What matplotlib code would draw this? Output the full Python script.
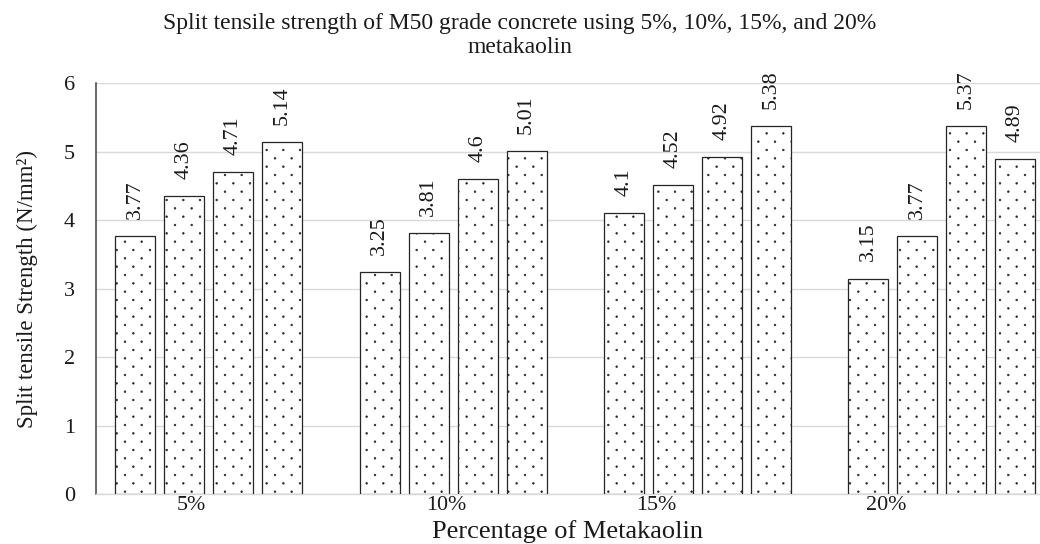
import numpy as np
import matplotlib
matplotlib.use("Agg")
import matplotlib.pyplot as plt
import matplotlib.hatch as mhatch
from matplotlib.path import Path

# ---- data -------------------------------------------------------------
categories = ["5%", "10%", "15%", "20%"]
series_1 = [3.77, 3.25, 4.10, 3.15]
series_2 = [4.36, 3.81, 4.52, 3.77]
series_3 = [4.71, 4.60, 4.92, 5.37]
series_4 = [5.14, 5.01, 5.38, 4.89]
all_series = [series_1, series_2, series_3, series_4]

y_ticks = [0, 1, 2, 3, 4, 5, 6]
title = ("Split tensile strength of M50 grade concrete using 5%, 10%, 15%, and 20%\n"
         "metakaolin")
x_title = "Percentage of Metakaolin"
y_title = "Split tensile Strength (N/mm²)"

# horizontal nudge of each category label relative to its group centre
label_shift = [-0.070, -0.029, -0.167, -0.229]


# ---- staggered dot texture for the '.' hatch ----------------------------
class StaggeredDots(mhatch.HatchPatternBase):
    cols = 6
    rows = 12
    radius = 0.0085

    def __init__(self, hatch, density):
        circle = Path.unit_circle()
        self.shape_vertices = circle.vertices
        self.shape_codes = circle.codes
        if hatch.count('.') > 0:
            pts = []
            for r in range(self.rows + 1):
                y = r / self.rows
                if r % 2 == 0:
                    xs = np.linspace(0, 1, self.cols + 1)
                else:
                    xs = (np.arange(self.cols) + 0.5) / self.cols
                pts += [(x, y) for x in xs]
            self.centers = np.array(pts)
            self.num_vertices = len(self.centers) * len(self.shape_vertices)
        else:
            self.centers = np.empty((0, 2))
            self.num_vertices = 0

    def set_vertices_and_codes(self, vertices, codes):
        verts = [self.shape_vertices * self.radius + c for c in self.centers]
        cds = [self.shape_codes] * len(self.centers)
        np.concatenate(verts, out=vertices)
        np.concatenate(cds, out=codes)


mhatch._hatch_types = [StaggeredDots if t is mhatch.SmallFilledCircles else t
                       for t in mhatch._hatch_types]

plt.rcParams['font.family'] = ['Liberation Serif', 'DejaVu Serif']
plt.rcParams['hatch.linewidth'] = 0.45
plt.rcParams['hatch.color'] = 'black'

# ---- figure -----------------------------------------------------------
fig = plt.figure(figsize=(10.40, 5.44), dpi=100)
ax = fig.add_axes([0.092, 0.0914, 0.908, 0.7555])

x = np.arange(len(categories))
step = 0.2006
width = 0.1637
n = len(all_series)

for j, vals in enumerate(all_series):
    xpos = x + (j - (n - 1) / 2) * step
    bars = ax.bar(xpos, vals, width=width, color='white', edgecolor='#262626',
                  linewidth=0.9, hatch='.', zorder=3)
    for rect, v in zip(bars, vals):
        ax.annotate(f"{v:g}", (rect.get_x() + rect.get_width() / 2, v),
                    xytext=(0, 12.3), textcoords='offset points',
                    rotation=90, ha='center', va='bottom', fontsize=15.8,
                    color='#1a1a1a')

ax.set_ylim(0, 6)
ax.set_xlim(-0.463, 3.402)
ax.set_yticks(y_ticks)
ax.set_xticks(x + np.array(label_shift))
ax.set_xticklabels(categories)

ax.grid(axis='y', color='#d9d9d9', linewidth=1.0, zorder=0)
ax.set_axisbelow(True)
for s in ['top', 'right']:
    ax.spines[s].set_visible(False)
ax.spines['left'].set_color('#404040')
ax.spines['left'].set_linewidth(1.1)
ax.spines['bottom'].set_color('#d9d9d9')
ax.spines['bottom'].set_linewidth(1.0)

ax.tick_params(axis='y', length=0, pad=15, labelsize=16, labelcolor='#1a1a1a')
ax.tick_params(axis='x', length=0, pad=1.2, labelsize=15.8, labelcolor='#1a1a1a')

ax.set_xlabel(x_title, fontsize=19, color='#1a1a1a', va='baseline')
ax.xaxis.set_label_coords(0.5, -0.1063)
ax.set_ylabel(y_title, fontsize=16.5, color='#1a1a1a')
ax.yaxis.label.set(rotation_mode='default', va='center', ha='center')
ax.yaxis.set_label_coords(-0.0727, 0.5)

fig.text(0.5, 1 - 35.5 / 544, title, ha='center', va='center', fontsize=17,
         color='#1a1a1a', linespacing=1.2)

fig.savefig("out.png", dpi=100)
